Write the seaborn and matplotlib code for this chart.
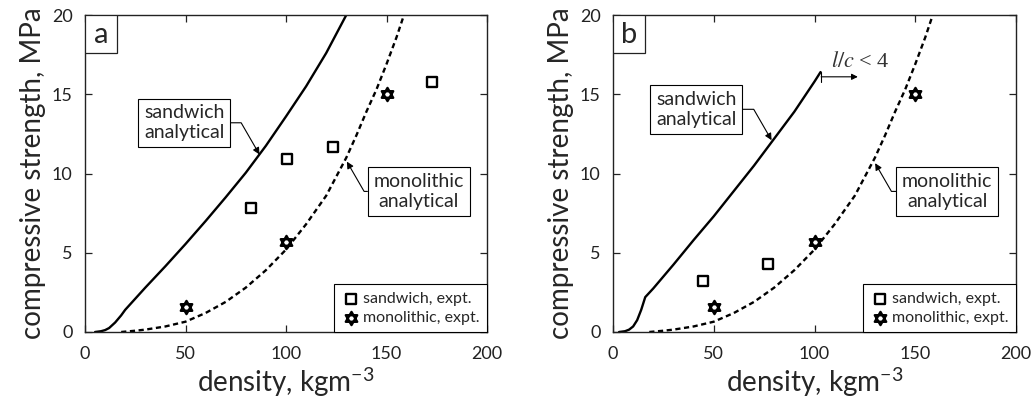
import numpy as np
import matplotlib
matplotlib.use("Agg")
import matplotlib.pyplot as plt
from matplotlib.path import Path
from matplotlib.patches import Rectangle
import seaborn as sns

# ---------------- data ----------------
sand_a_x = [5, 8, 10, 12, 15, 18, 20, 25, 30, 40, 50, 60, 70, 80, 90, 100, 110, 120, 130, 132]
sand_a_y = [0.0, 0.05, 0.12, 0.25, 0.6, 1.05, 1.4, 2.1, 2.8, 4.15, 5.55, 7.0, 8.5, 10.05, 11.75,
            13.6, 15.5, 17.6, 20.0, 20.5]

sand_b_x = [3, 6, 8, 10, 12, 14, 16, 20, 30, 40, 50, 60, 70, 80, 90, 100, 103]
sand_b_y = [0.0, 0.05, 0.15, 0.35, 0.75, 1.4, 2.2, 2.75, 4.25, 5.8, 7.3, 8.9, 10.5, 12.2, 13.9,
            15.8, 16.4]

mono_x = [18, 25, 30, 40, 50, 60, 70, 80, 90, 100, 110, 120, 125, 130, 135, 140, 145, 150, 155, 160]
mono_y = [0.0, 0.08, 0.15, 0.35, 0.65, 1.2, 1.9, 2.8, 3.9, 5.2, 6.8, 8.6, 9.8, 11.0, 12.4, 13.9,
          15.3, 16.9, 18.6, 20.5]

sand_exp_a_x = [82.5, 100.5, 123.5, 172.5]
sand_exp_a_y = [7.8, 10.9, 11.7, 15.8]
sand_exp_b_x = [44.5, 77.0]
sand_exp_b_y = [3.2, 4.3]
mono_exp_x = [50, 100, 150]
mono_exp_y = [1.6, 5.7, 15.0]

x_ticks = [0, 50, 100, 150, 200]
y_ticks = [0, 5, 10, 15, 20]
panel_labels = ["a", "b"]
x_label = r"density, kgm$^{\mathregular{-3}}$"
y_label = "compressive strength, MPa"
legend_labels = ["sandwich, expt.", "monolithic, expt."]
note_sand = "sandwich\nanalytical"
note_mono = "monolithic\nanalytical"
lc_text = r"$l/c$ < 4"

# ---------------- style ----------------
sns.set_theme(style="ticks")
plt.rcParams["font.family"] = ["Lato", "DejaVu Sans"]
plt.rcParams["mathtext.fontset"] = "stix"
plt.rcParams.update({
    "xtick.direction": "in", "ytick.direction": "in",
    "xtick.top": True, "ytick.right": True,
    "xtick.major.size": 5, "ytick.major.size": 5,
    "xtick.major.width": 0.9, "ytick.major.width": 0.9,
    "axes.linewidth": 1.0,
    "axes.edgecolor": "#222222",
    "xtick.color": "#222222", "ytick.color": "#222222",
    "xtick.labelsize": 13, "ytick.labelsize": 13,
    "xtick.major.pad": 10, "ytick.major.pad": 9,
})

# hexagram (Star of David) marker: two overlapping triangles
ang_up = np.deg2rad([90, 210, 330])
ang_dn = np.deg2rad([270, 30, 150])
verts = [(np.cos(a), np.sin(a)) for a in ang_up] + [(0, 0)] + \
        [(np.cos(a), np.sin(a)) for a in ang_dn] + [(0, 0)]
codes = [Path.MOVETO, Path.LINETO, Path.LINETO, Path.CLOSEPOLY] * 2
hexagram = Path(verts, codes)

fig = plt.figure(figsize=(10.31, 4.0), dpi=100)
ax_a = fig.add_axes([85 / 1031, 68 / 400, 402 / 1031, 317 / 400])
ax_b = fig.add_axes([613 / 1031, 68 / 400, 403 / 1031, 317 / 400])

dash = (0, (2.2, 1.5))

panels = [
    (ax_a, sand_a_x, sand_a_y, sand_exp_a_x, sand_exp_a_y,
     (49.3, 13.2), (86.8, 11.2), (166.1, 8.87), (130.3, 10.75)),
    (ax_b, sand_b_x, sand_b_y, sand_exp_b_x, sand_exp_b_y,
     (41.3, 14.05), (78.7, 12.1), (165.9, 8.87), (130.1, 10.65)),
]

for i, (ax, sx, sy, ex, ey, s_txt, s_tgt, m_txt, m_tgt) in enumerate(panels):
    sns.lineplot(x=sx, y=sy, ax=ax, color="black", lw=1.7, errorbar=None)
    sns.lineplot(x=mono_x, y=mono_y, ax=ax, color="black", lw=1.7,
                 linestyle=dash, errorbar=None)
    sns.scatterplot(x=ex, y=ey, ax=ax, marker="s", s=60, facecolor="white",
                    edgecolor="black", linewidth=1.7, label=legend_labels[0],
                    zorder=5)
    sns.scatterplot(x=mono_exp_x, y=mono_exp_y, ax=ax, marker=hexagram, s=90,
                    facecolor="white", edgecolor="black", linewidth=1.7,
                    label=legend_labels[1], zorder=5)

    ax.set_xlim(0, 200)
    ax.set_ylim(0, 20)
    ax.set_xticks(x_ticks)
    ax.set_yticks(y_ticks)
    ax.set_xlabel(x_label, fontsize=20, labelpad=3)
    ax.set_ylabel(y_label, fontsize=20, labelpad=4)

    leg = ax.legend(loc="lower right", borderaxespad=0, fontsize=11.5,
                    frameon=True, fancybox=False, framealpha=1,
                    edgecolor="black", handletextpad=0.2, borderpad=0.45,
                    labelspacing=0.3, handlelength=1.2)
    leg.get_frame().set_linewidth(0.8)

    # panel label box
    ax.add_patch(Rectangle((0, 1 - 0.12), 0.079, 0.12, transform=ax.transAxes,
                           fc="white", ec="#222222", lw=0.9, zorder=6))
    ax.text(0.0395, 1 - 0.062, panel_labels[i], transform=ax.transAxes,
            ha="center", va="center", fontsize=21, zorder=7)

    box = dict(boxstyle="square,pad=0.3", fc="white", ec="black", lw=0.8)
    ap = dict(arrowstyle="-|>", color="black", lw=0.8, shrinkA=0, shrinkB=0,
              mutation_scale=10,
              connectionstyle="angle,angleA=0,angleB=120,rad=0")
    ax.annotate(note_sand, xy=s_tgt, xytext=s_txt, ha="center", va="center",
                fontsize=14, linespacing=1.2, bbox=box, arrowprops=ap)
    ax.annotate(note_mono, xy=m_tgt, xytext=m_txt, ha="center", va="center",
                fontsize=14, linespacing=1.2, bbox=box, arrowprops=ap)

# l/c < 4 marker on panel b, starting at the end of the sandwich curve
x_end, y_end = sand_b_x[-1], sand_b_y[-1]
y_arrow = y_end - 0.3
ax_b.annotate("", xy=(x_end + 18.5, y_arrow), xytext=(x_end + 0.3, y_arrow),
              arrowprops=dict(arrowstyle="-|>", color="black", lw=0.8,
                              shrinkA=0, shrinkB=0, mutation_scale=9))
ax_b.plot([x_end + 0.3, x_end + 0.3], [y_arrow - 0.33, y_arrow + 0.33],
          color="black", lw=0.8)
ax_b.text(108.0, 16.75, lc_text, fontsize=16, family="Liberation Serif",
          color="#333333", ha="left", va="baseline")

fig.savefig("out.png", dpi=100)
